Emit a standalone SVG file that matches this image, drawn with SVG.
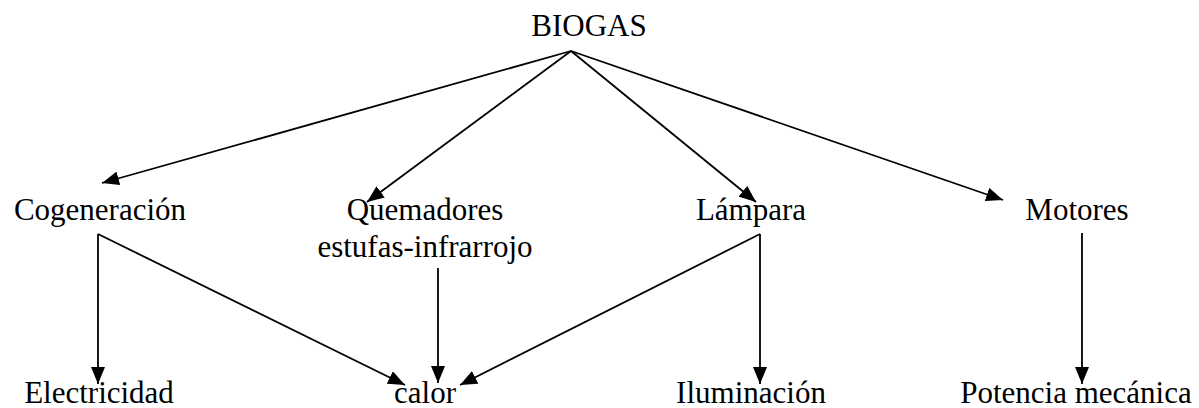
<svg xmlns="http://www.w3.org/2000/svg" width="1199" height="408" viewBox="0 0 1199 408">
<defs>
<marker id="ah" markerUnits="userSpaceOnUse" markerWidth="18" markerHeight="14" refX="17" refY="7" orient="auto">
<polygon points="0,0 17,7 0,14" fill="#000"/>
</marker>
<style>
text{font-family:"Liberation Serif","Times New Roman",serif;font-size:31px;fill:#000;text-anchor:middle}
.c line{stroke:#000;stroke-width:1.8;fill:none}
.a{marker-end:url(#ah)}
</style>
</defs>
<rect width="1199" height="408" fill="#fff"/>
<g id="biogas"><text x="589" y="36">BIOGAS</text></g>
<g id="cogeneracion"><text x="100" y="220">Cogeneración</text></g>
<g id="quemadores"><text x="425" y="220">Quemadores</text><text x="425" y="257">estufas-infrarrojo</text></g>
<g id="lampara"><text x="751" y="220">Lámpara</text></g>
<g id="motores"><text x="1077" y="220">Motores</text></g>
<g id="electricidad"><text x="99" y="403">Electricidad</text></g>
<g id="calor"><text x="425" y="403">calor</text></g>
<g id="iluminacion"><text x="751" y="403">Iluminación</text></g>
<g id="potencia"><text x="1076" y="403">Potencia mecánica</text></g>
<g class="c" id="connectors">
<line class="a" x1="571" y1="51" x2="102" y2="183"/>
<line class="a" x1="571" y1="51" x2="367" y2="202"/>
<line class="a" x1="571" y1="51" x2="756" y2="202"/>
<line class="a" x1="571" y1="51" x2="1003" y2="200"/>
<line class="a" x1="98" y1="234" x2="98" y2="384"/>
<line class="a" x1="98" y1="234" x2="405" y2="385"/>
<line class="a" x1="438" y1="268" x2="438" y2="383"/>
<line class="a" x1="760" y1="234" x2="460" y2="385"/>
<line class="a" x1="760" y1="234" x2="760" y2="384"/>
<line class="a" x1="1082" y1="233" x2="1082" y2="384"/>
</g>
</svg>
